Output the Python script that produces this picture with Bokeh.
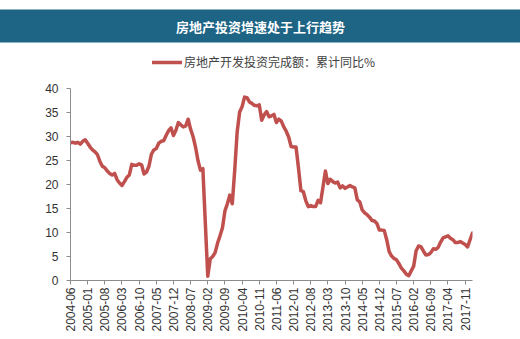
import math
from bokeh.plotting import figure
from bokeh.models import (Legend, LegendItem, FixedTicker, Title,
                          Range1d, ColumnDataSource)
from bokeh.embed import file_html
from bokeh.resources import INLINE

# ---- data -------------------------------------------------------------
title_text = "房地产投资增速处于上行趋势"
series_name = "房地产开发投资完成额：累计同比%"

months = []
for y in range(2004, 2019):
    for m in range(1, 13):
        if (y == 2004 and m < 6) or (y == 2018 and m > 2):
            continue
        months.append(f"{y}-{m:02d}")

values = [
    # 2004-06 .. 2004-12
    28.7, 28.8, 28.6, 28.8, 28.4, 29.0, 29.3,
    # 2005
    28.6, 27.8, 27.2, 26.8, 26.2, 24.8, 23.8, 23.5, 22.8, 22.3, 22.0, 22.3,
    # 2006
    21.0, 20.3, 19.8, 20.6, 21.5, 22.0, 24.2, 24.0, 24.0, 24.3, 24.1, 22.2,
    # 2007
    22.6, 23.8, 26.3, 27.2, 27.5, 28.6, 29.0, 29.1, 30.2, 31.2, 31.8, 30.2,
    # 2008
    31.3, 32.9, 32.4, 32.0, 32.2, 33.6, 31.5, 30.0, 27.8, 25.0, 23.0, 23.3,
    # 2009
    12.0, 0.9, 4.5, 5.0, 5.8, 7.8, 9.3, 11.0, 14.5, 16.0, 17.8, 16.0,
    # 2010
    23.0, 31.0, 35.1, 36.2, 38.2, 38.1, 37.2, 36.9, 36.5, 36.4, 36.6, 33.4,
    # 2011
    34.5, 35.2, 34.1, 34.3, 34.6, 32.9, 33.6, 33.2, 32.0, 31.1, 29.9, 27.9,
    # 2012
    27.8, 27.8, 23.5, 18.7, 18.5, 16.6, 15.4, 15.6, 15.4, 15.4, 16.7, 16.2,
    # 2013
    19.5, 22.8, 20.2, 21.1, 20.6, 20.3, 20.5, 19.3, 19.7, 19.2, 19.5, 19.8,
    # 2014
    19.5, 19.3, 16.8, 16.4, 14.7, 14.1, 13.7, 13.2, 12.5, 12.4, 11.9, 10.5,
    # 2015
    10.5, 10.4, 8.5, 6.0, 5.1, 4.6, 4.3, 3.5, 2.6, 2.0, 1.3, 1.0,
    # 2016
    2.0, 3.0, 6.2, 7.2, 7.0, 6.1, 5.3, 5.4, 5.8, 6.6, 6.5, 6.9,
    # 2017
    8.0, 8.9, 9.1, 9.3, 8.8, 8.5, 7.9, 7.9, 8.1, 7.8, 7.5, 7.0,
    # 2018-01 .. 2018-02
    8.5, 9.9,
]

y_ticks = [0, 5, 10, 15, 20, 25, 30, 35, 40]
y_min, y_max = 0, 40
x_tick_step = 7

# ---- derived positions --------------------------------------------------
def month_index(s):
    y, m = s.split("-")
    return (int(y) - 2004) * 12 + (int(m) - 6)

xs = [month_index(s) for s in months]
src = ColumnDataSource(dict(x=xs, y=values))

tick_pos = list(range(0, xs[-1] + 1, x_tick_step))
tick_labels = {t: months[xs.index(t)] for t in tick_pos}

W, H = 520, 339
FRAME_TOP = 46        # frame extends above the axis to hold the legend
AXIS_TOP = 88         # pixel row of the top tick (y_max)
AXIS_BOTTOM = 280
px_per_unit = (AXIS_BOTTOM - AXIS_TOP) / (y_max - y_min)
y_top = y_max + (AXIS_TOP - FRAME_TOP) / px_per_unit

# padding order observed: (left, right, top, bottom)
banner = Title(text=title_text, align="center",
               text_color="white", text_font="Noto Sans CJK SC",
               text_font_size="13px", text_font_style="bold",
               background_fill_color="#1d6485", background_fill_alpha=1.0,
               padding=(200, 222, 7, 7), standoff=8)

p = figure(width=W, height=H, output_backend="svg", toolbar_location=None,
           title=banner,
           x_range=Range1d(xs[0], xs[-1]), y_range=Range1d(y_min, y_top),
           min_border_left=70, min_border_right=48, min_border_top=FRAME_TOP,
           min_border_bottom=H - AXIS_BOTTOM)
p.background_fill_color = "white"
p.border_fill_color = "white"
p.outline_line_color = None
p.xgrid.visible = False
p.ygrid.visible = False

r = p.line("x", "y", source=src, line_color="#C0504D", line_width=3.5,
           line_join="round", line_cap="round")

ax = p.xaxis[0]
ax.ticker = FixedTicker(ticks=tick_pos)
ax.major_label_overrides = tick_labels
ax.major_label_orientation = math.pi / 2
ax.major_label_text_font = "Liberation Sans"
ax.major_label_text_font_size = "12px"
ax.major_label_text_color = "#333333"
ax.axis_line_color = "#8c8c8c"
ax.major_tick_line_color = "#8c8c8c"
ax.major_tick_in = 0
ax.major_tick_out = 4
ax.minor_tick_line_color = None
ax.major_label_standoff = 3

ay = p.yaxis[0]
ay.ticker = FixedTicker(ticks=y_ticks)
ay.bounds = (y_min, y_max)
ay.major_label_text_font = "Liberation Sans"
ay.major_label_text_font_size = "12px"
ay.major_label_text_color = "#333333"
ay.axis_line_color = "#8c8c8c"
ay.major_tick_line_color = "#8c8c8c"
ay.major_tick_in = 0
ay.major_tick_out = 4
ay.minor_tick_line_color = None
ay.major_label_standoff = 8

legend = Legend(items=[LegendItem(label=series_name, renderers=[r])],
                location=(82, AXIS_BOTTOM - 62 - 8), orientation="horizontal",
                label_text_font="Noto Sans CJK SC", label_text_font_size="12px",
                label_text_color="#404040", glyph_width=30, glyph_height=16,
                label_height=16,
                border_line_color=None, background_fill_alpha=0,
                label_standoff=2, padding=0, margin=0)
p.add_layout(legend, "center")

open("out.html", "w").write(file_html(p, INLINE))
